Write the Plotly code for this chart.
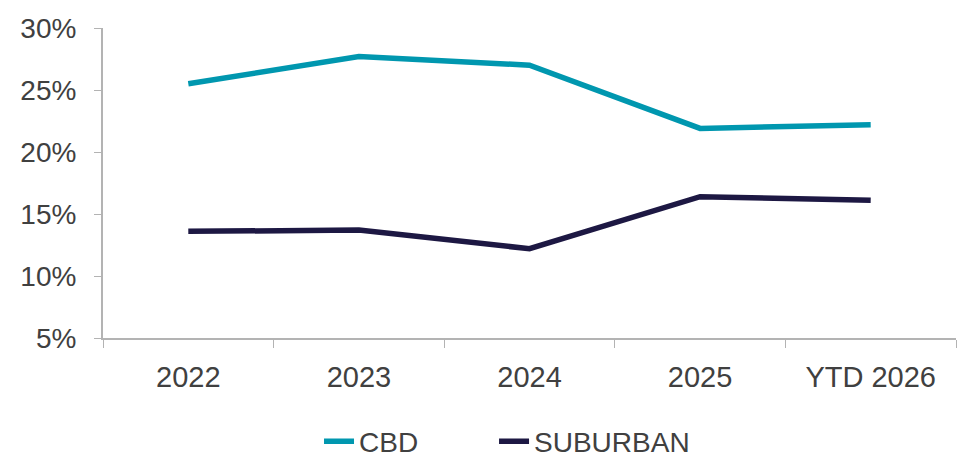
import plotly.graph_objects as go

categories = ["2022", "2023", "2024", "2025", "YTD 2026"]
cbd = [25.5, 27.7, 27.0, 21.9, 22.2]
suburban = [13.6, 13.7, 12.2, 16.4, 16.1]
y_ticks = [5, 10, 15, 20, 25, 30]
y_tick_labels = [f"{v}%" for v in y_ticks]

fig = go.Figure()
fig.add_trace(go.Scatter(x=categories, y=cbd, name="CBD", mode="lines",
                         line=dict(color="#0097AF", width=5.5), legend="legend"))
fig.add_trace(go.Scatter(x=categories, y=suburban, name="SUBURBAN", mode="lines",
                         line=dict(color="#1D1843", width=5.5), legend="legend2"))

font_family = "Liberation Sans, Arial, sans-serif"
leg_common = dict(orientation="h", xref="container", yref="container", xanchor="left",
                  y=0.042, yanchor="middle",
                  font=dict(size=28, color="#404040"), bgcolor="rgba(0,0,0,0)")
fig.update_layout(
    width=958, height=461,
    margin=dict(l=103, r=2, t=28, b=123, autoexpand=False),
    paper_bgcolor="white", plot_bgcolor="white",
    font=dict(family=font_family, color="#404040", size=28),
    legend=dict(x=0.333, **leg_common),
    legend2=dict(x=0.5157, **leg_common),
    showlegend=True,
)
fig.update_xaxes(type="category", range=[-0.5, 4.5], tickson="boundaries", ticks="outside",
                 ticklen=8, tickcolor="#B3B3B3", showline=True, linecolor="#B3B3B3",
                 linewidth=2, showgrid=False, tickfont=dict(size=29, color="#404040"),
                 ticklabelstandoff=12, zeroline=False)
fig.update_yaxes(range=[5, 30], tickmode="array", tickvals=y_ticks, ticktext=y_tick_labels,
                 ticks="outside", ticklen=7,
                 tickcolor="#B3B3B3", showline=True, linecolor="#B3B3B3", linewidth=2,
                 showgrid=False, zeroline=False, tickfont=dict(size=28, color="#404040"),
                 ticklabelstandoff=12)

fig.write_html("out.html")
